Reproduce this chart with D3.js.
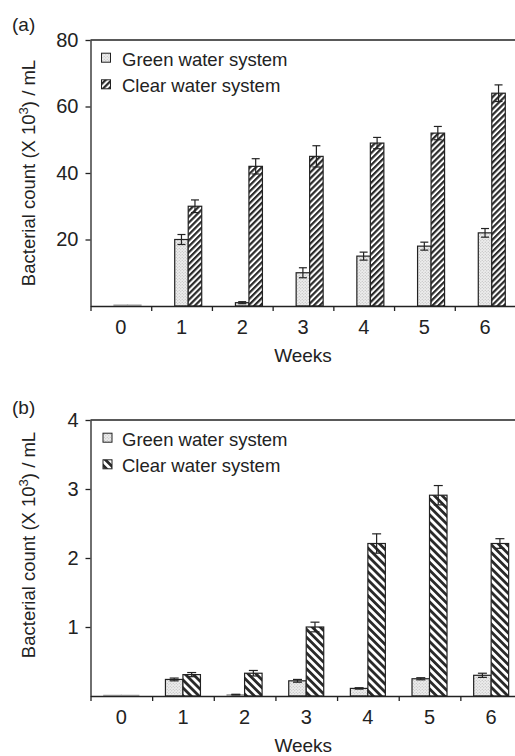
<!DOCTYPE html>
<html>
<head>
<meta charset="utf-8">
<script src="https://cdn.jsdelivr.net/npm/d3@7"></script>
<style>
  html, body { margin: 0; padding: 0; background: #fff; }
  svg { display: block; }
  text { font-family: "Liberation Sans", Arial, sans-serif; fill: #222; }
</style>
</head>
<body>
<svg id="chart" width="515" height="756"></svg>
<script>
// ---- Data ----
const weeks = ["0", "1", "2", "3", "4", "5", "6"];
const seriesNames = ["Green water system", "Clear water system"];

// Panel (a): bacterial count (x10^3 / mL)
const greenA = [0.3, 20, 1, 10, 15, 18, 22];
const greenAErr = [0, 1.5, 0.3, 1.5, 1.2, 1.2, 1.3];
const clearA = [0.3, 30, 42, 45, 49, 52, 64];
const clearAErr = [0, 1.9, 2.3, 3.2, 1.7, 2.0, 2.5];
const yTicksA = [20, 40, 60, 80];

// Panel (b)
const greenB = [0.01, 0.24, 0.02, 0.22, 0.11, 0.25, 0.3];
const greenBErr = [0, 0.02, 0.005, 0.02, 0.01, 0.015, 0.03];
const clearB = [0.01, 0.31, 0.33, 1.0, 2.21, 2.91, 2.21];
const clearBErr = [0, 0.03, 0.04, 0.07, 0.14, 0.14, 0.07];
const yTicksB = [1, 2, 3, 4];

const svg = d3.select("#chart");
const defs = svg.append("defs");
const ink = "#222";

// Stipple pattern for green water
const dots = defs.append("pattern").attr("id", "dots")
  .attr("patternUnits", "userSpaceOnUse").attr("width", 3).attr("height", 3);
dots.append("rect").attr("width", 3).attr("height", 3).attr("fill", "#ededed");
dots.append("circle").attr("cx", 0.75).attr("cy", 0.75).attr("r", 0.6).attr("fill", "#b5b5b5");
dots.append("circle").attr("cx", 2.25).attr("cy", 2.25).attr("r", 0.6).attr("fill", "#b5b5b5");

// Hatch "/" for panel a
const hA = defs.append("pattern").attr("id", "hatchA")
  .attr("patternUnits", "userSpaceOnUse").attr("width", 4.2).attr("height", 10)
  .attr("patternTransform", "rotate(45)");
hA.append("rect").attr("width", 4.2).attr("height", 10).attr("fill", "#fff");
hA.append("rect").attr("x", 0).attr("width", 2.2).attr("height", 10).attr("fill", "#2a2a2a");

// Hatch "\" for panel b
const hB = defs.append("pattern").attr("id", "hatchB")
  .attr("patternUnits", "userSpaceOnUse").attr("width", 5.6).attr("height", 10)
  .attr("patternTransform", "rotate(-45)");
hB.append("rect").attr("width", 5.6).attr("height", 10).attr("fill", "#fff");
hB.append("rect").attr("x", 0).attr("width", 2.8).attr("height", 10).attr("fill", "#2a2a2a");

function panel(cfg) {
  const g = svg.append("g");
  const y = d3.scaleLinear().domain([0, cfg.yMax]).range([cfg.bottom, cfg.top]);
  const xBand = d3.scaleBand().domain(weeks).range([cfg.left, cfg.right]).padding(0);
  const xLin = d3.scaleLinear().domain([0, weeks.length]).range([cfg.left, cfg.right]);
  const xSub = d3.scaleBand().domain(["g", "c"]).range(cfg.subRange).padding(0);

  // top frame line
  g.append("line").attr("x1", cfg.left).attr("x2", 515)
    .attr("y1", cfg.top).attr("y2", cfg.top)
    .attr("stroke", ink).attr("stroke-width", 1.3);

  // bars
  const rows = weeks.map((w, i) => ({ w, g: cfg.green[i], ge: cfg.greenErr[i], c: cfg.clear[i], ce: cfg.clearErr[i] }));
  const fills = { g: "url(#dots)", c: cfg.hatch };
  rows.forEach(r => {
    ["g", "c"].forEach(k => {
      const v = r[k], e = r[k + "e"];
      const x0 = xBand(r.w) + xSub(k);
      const bw = xSub.bandwidth();
      g.append("rect")
        .attr("x", x0).attr("y", y(v))
        .attr("width", bw).attr("height", Math.max(0, y(0) - y(v)))
        .attr("fill", fills[k])
        .attr("stroke", v < cfg.yMax * 0.01 ? "#aaa" : ink)
        .attr("stroke-width", 1.2);
      if (e > 0) {
        const cx = x0 + bw / 2, cap = cfg.cap;
        const eg = g.append("g").attr("stroke", ink).attr("stroke-width", 1.2);
        eg.append("line").attr("x1", cx).attr("x2", cx).attr("y1", y(v + e)).attr("y2", y(v - e));
        eg.append("line").attr("x1", cx - cap).attr("x2", cx + cap).attr("y1", y(v + e)).attr("y2", y(v + e));
        eg.append("line").attr("x1", cx - cap).attr("x2", cx + cap).attr("y1", y(v - e)).attr("y2", y(v - e));
      }
    });
  });

  // y axis
  const ya = g.append("g").attr("transform", `translate(${cfg.left},0)`)
    .call(d3.axisLeft(y).tickValues(cfg.yTicks).tickFormat(d3.format("d")).tickSize(5).tickPadding(7).tickSizeOuter(0));
  ya.selectAll("text").style("font-size", "20px").attr("fill", ink);
  ya.selectAll("line, path").attr("stroke", ink).attr("stroke-width", 1.3);

  // x axis: tick marks at band boundaries
  const xt = g.append("g").attr("transform", `translate(0,${cfg.bottom})`)
    .call(d3.axisBottom(xLin).tickValues(d3.range(0, weeks.length + 1)).tickFormat("").tickSize(5).tickSizeOuter(0));
  xt.selectAll("line, path").attr("stroke", ink).attr("stroke-width", 1.3);
  // x labels at band centres
  const xl = g.append("g").attr("transform", `translate(0,${cfg.bottom})`)
    .call(d3.axisBottom(xBand).tickSize(0).tickPadding(cfg.labelPad));
  xl.select(".domain").remove();
  xl.selectAll("text").style("font-size", "20px").attr("fill", ink);

  // x title
  g.append("text").attr("x", (cfg.left + Math.min(cfg.right, 516)) / 2)
    .attr("y", cfg.weeksY).attr("text-anchor", "middle")
    .style("font-size", "19px").text("Weeks");

  // y title
  const yt = g.append("text")
    .attr("transform", `translate(${cfg.yTitleX},${cfg.yTitleY}) rotate(-90)`)
    .attr("text-anchor", "middle").style("font-size", "18.5px");
  yt.append("tspan").text("Bacterial count (X 10");
  yt.append("tspan").attr("dy", -7).style("font-size", "13px").text("3");
  yt.append("tspan").attr("dy", 7).text(") / mL");

  // panel tag
  g.append("text").attr("x", 12).attr("y", cfg.tagY).style("font-size", "19px").text(cfg.tag);

  // legend
  const lg = g.append("g");
  seriesNames.forEach((name, i) => {
    const ly = cfg.legendY + i * 26.6;
    lg.append("rect").attr("x", cfg.legendX).attr("y", ly - 12.5)
      .attr("width", 9).attr("height", 9)
      .attr("fill", i === 0 ? "url(#dots)" : cfg.hatch)
      .attr("stroke", ink).attr("stroke-width", 1);
    lg.append("text").attr("x", 122).attr("y", ly).style("font-size", "18.5px").text(name);
  });
}

panel({
  top: 40, bottom: 306, left: 90.5, right: 515.5, yMax: 80,
  green: greenA, greenErr: greenAErr, clear: clearA, clearErr: clearAErr,
  yTicks: yTicksA, subRange: [23.5, 50.5], hatch: "url(#hatchA)", cap: 4,
  labelPad: 14, weeksY: 362, yTitleX: 35, yTitleY: 173, tag: "(a)", tagY: 31,
  legendX: 101.5, legendY: 65.7
});

panel({
  top: 420, bottom: 696, left: 90.5, right: 522, yMax: 4,
  green: greenB, greenErr: greenBErr, clear: clearB, clearErr: clearBErr,
  yTicks: yTicksB, subRange: [13.3, 48.3], hatch: "url(#hatchB)", cap: 4.5,
  labelPad: 14, weeksY: 752, yTitleX: 35, yTitleY: 545, tag: "(b)", tagY: 414,
  legendX: 103, legendY: 445.7
});
</script>
</body>
</html>
